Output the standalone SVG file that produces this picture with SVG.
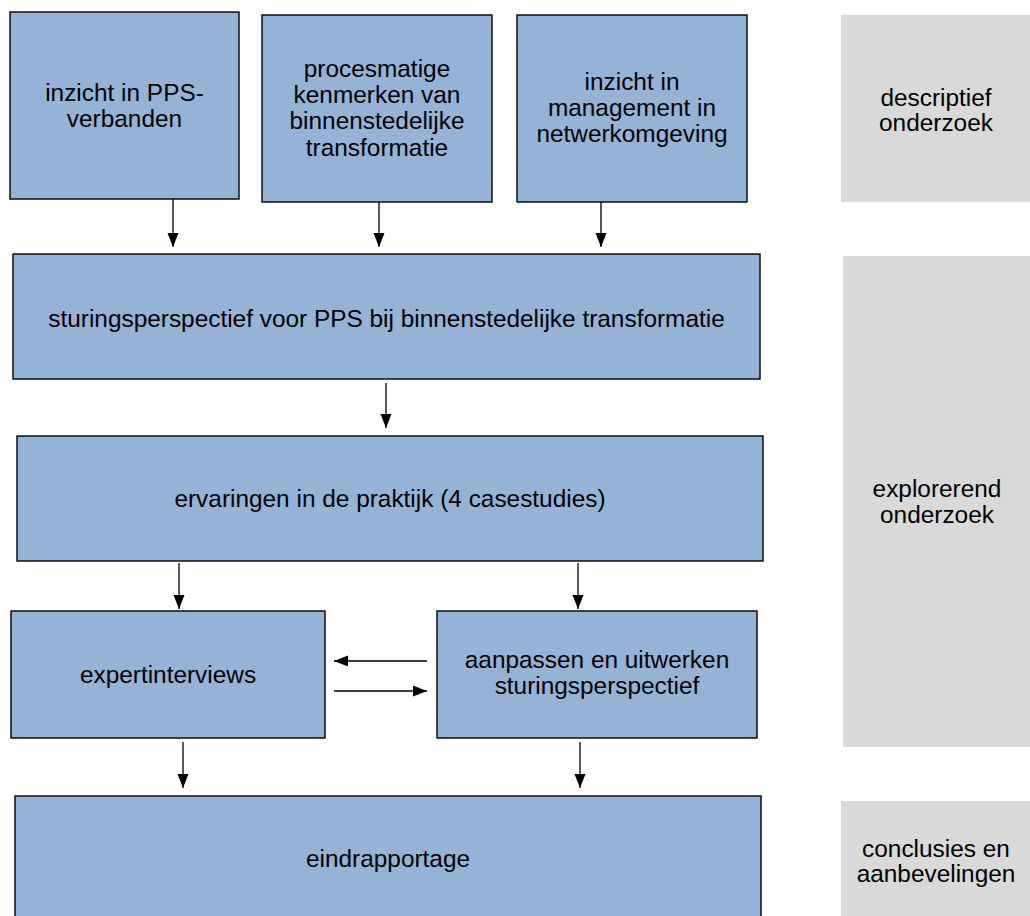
<svg xmlns="http://www.w3.org/2000/svg" width="1030" height="916" viewBox="0 0 1030 916">
  <defs>
    <marker id="arrow" markerUnits="userSpaceOnUse" markerWidth="14" markerHeight="12" refX="14" refY="5.5" orient="auto">
      <path d="M0,0 L14,5.5 L0,11 Z" fill="#000"/>
    </marker>
    <style>
      .box { fill: #95B3D7; stroke: #000; stroke-width: 1.4; }
      .phase { fill: #D9D9D9; stroke: none; }
      .lbl { font-family: "Liberation Sans", Arial, sans-serif; font-size: 24.4px; fill: #000; text-anchor: middle; }
      .conn line { stroke: #000; stroke-width: 1.3; marker-end: url(#arrow); }
    </style>
  </defs>
  <rect width="1030" height="916" fill="#fff"/>

  <!-- phase bands on the right -->
  <g id="phase-descriptief">
    <rect class="phase" x="841" y="15" width="195" height="187"/>
    <text class="lbl" x="936" y="106">descriptief</text>
    <text class="lbl" x="936" y="131">onderzoek</text>
  </g>
  <g id="phase-explorerend">
    <rect class="phase" x="843" y="256" width="193" height="491"/>
    <text class="lbl" x="937" y="497">explorerend</text>
    <text class="lbl" x="937" y="523">onderzoek</text>
  </g>
  <g id="phase-conclusies">
    <rect class="phase" x="841" y="801" width="195" height="130"/>
    <text class="lbl" x="936" y="857">conclusies en</text>
    <text class="lbl" x="936" y="882">aanbevelingen</text>
  </g>

  <!-- process boxes -->
  <g id="pps-verbanden">
    <rect class="box" x="10" y="12" width="229" height="187"/>
    <text class="lbl" x="124.5" y="101">inzicht in PPS-</text>
    <text class="lbl" x="124.5" y="127">verbanden</text>
  </g>
  <g id="procesmatige-kenmerken">
    <rect class="box" x="262" y="15" width="230" height="187"/>
    <text class="lbl" x="377" y="77">procesmatige</text>
    <text class="lbl" x="377" y="103">kenmerken van</text>
    <text class="lbl" x="377" y="129">binnenstedelijke</text>
    <text class="lbl" x="377" y="156">transformatie</text>
  </g>
  <g id="netwerkmanagement">
    <rect class="box" x="517" y="15" width="230" height="187"/>
    <text class="lbl" x="632" y="90">inzicht in</text>
    <text class="lbl" x="632" y="116">management in</text>
    <text class="lbl" x="632" y="142">netwerkomgeving</text>
  </g>
  <g id="sturingsperspectief">
    <rect class="box" x="13" y="254" width="747" height="125"/>
    <text class="lbl" x="386.5" y="327">sturingsperspectief voor PPS bij binnenstedelijke transformatie</text>
  </g>
  <g id="ervaringen">
    <rect class="box" x="17" y="436" width="746" height="125"/>
    <text class="lbl" x="390" y="507">ervaringen in de praktijk (4 casestudies)</text>
  </g>
  <g id="expertinterviews">
    <rect class="box" x="11" y="611" width="314" height="127"/>
    <text class="lbl" x="168" y="683">expertinterviews</text>
  </g>
  <g id="aanpassen">
    <rect class="box" x="437" y="611" width="320" height="127"/>
    <text class="lbl" x="597" y="668">aanpassen en uitwerken</text>
    <text class="lbl" x="597" y="694">sturingsperspectief</text>
  </g>
  <g id="eindrapportage">
    <rect class="box" x="15" y="796" width="746" height="140"/>
    <text class="lbl" x="388" y="867">eindrapportage</text>
  </g>

  <!-- connectors -->
  <g id="connectors" class="conn">
    <line x1="173" y1="199" x2="173" y2="247"/>
    <line x1="379" y1="202" x2="379" y2="247"/>
    <line x1="601" y1="202" x2="601" y2="247"/>
    <line x1="386" y1="383" x2="386" y2="428"/>
    <line x1="179" y1="563" x2="179" y2="609"/>
    <line x1="578" y1="563" x2="578" y2="609"/>
    <line x1="427" y1="661" x2="334" y2="661"/>
    <line x1="334" y1="691" x2="427" y2="691"/>
    <line x1="183" y1="742" x2="183" y2="788"/>
    <line x1="580" y1="742" x2="580" y2="788"/>
  </g>
</svg>
